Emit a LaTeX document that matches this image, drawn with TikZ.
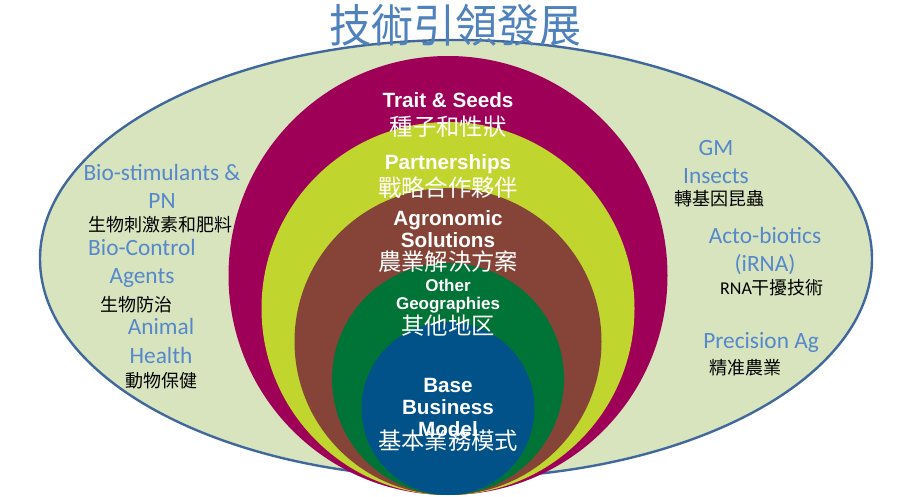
\documentclass[tikz,border=0pt]{standalone}
\usepackage{fontspec}
\setmainfont{Liberation Sans}
\newfontfamily\cjk{Noto Sans CJK TC}
\newfontfamily\cali{Carlito}

\definecolor{oval}{RGB}{215,228,189}
\definecolor{ovaledge}{RGB}{65,104,156}
\definecolor{seedred}{RGB}{158,0,88}
\definecolor{partlime}{RGB}{192,214,46}
\definecolor{agrobrown}{RGB}{134,68,56}
\definecolor{geogreen}{RGB}{0,116,54}
\definecolor{basenavy}{RGB}{0,82,136}
\definecolor{sideblue}{RGB}{85,136,204}
\definecolor{titleblue}{RGB}{79,129,189}

\tikzset{
  entag/.style={text=white, align=center, inner sep=0pt,
    font=\bfseries\fontsize{15.5}{16.5}\selectfont},
  zhtag/.style={text=white, inner sep=0pt,
    font=\cjk\fontsize{17.5}{18}\selectfont},
  sidetag/.style={text=sideblue, align=center, inner sep=0pt,
    font=\cali\fontsize{17.5}{21.5}\selectfont},
  sidezh/.style={text=black, inner sep=0pt,
    font=\cjk\fontsize{13.5}{14}\selectfont},
}

\newcommand{\rings}{
  \coordinate (eye) at (456,237);
  \draw [fill=oval, draw=ovaledge, line width=1.8pt] (eye)
    ellipse [x radius=416*0.75pt, y radius=219*0.75pt];

  % circles all touch at the bottom
  \foreach \r/\c in {219.5/seedred, 186.5/partlime, 153.5/agrobrown,
    116/geogreen, 86.5/basenavy}
    \fill [\c] (448,{1+\r}) circle [radius=\r*0.75pt];
}

\begin{document}
\begin{tikzpicture}[x=0.75pt, y=0.75pt]
    \useasboundingbox (0,0) rectangle (913,496);
    \rings

    \node [text=titleblue, inner sep=0pt, yscale=1.08,
    font=\cjk\fontsize{31.5}{33}\selectfont] (title) at (455,471) {技術引領發展};

    % rings
    \node [entag] (seeds) at (448,396) {Trait \& Seeds};
    \node [zhtag] (seedszh) at (448,369) {種子和性狀};

    \node [entag] (partner) at (448,332) {Partnerships};
    \node [zhtag] (partnerzh) at (448,308) {戰略合作夥伴};

    \node [entag] (agro) at (448,267) {Agronomic\\Solutions};
    \node [zhtag] (agrozh) at (448,234) {農業解決方案};

    \node [entag, font=\bfseries\fontsize{12.75}{13.5}\selectfont]
    (geo) at (448,200) {Other\\Geographies};
    \node [zhtag] (geozh) at (448,170) {其他地区};

    \node [entag] (base) at (448,89) {Base\\Business\\Model};
    \node [zhtag] (basezh) at (448,55) {基本業務模式};

    % left side
    \node [sidetag] (biostim) at (162,309.5) {Bio-stimulants \&\\PN};
    \node [sidezh] (biostimzh) at (160,271) {生物刺激素和肥料};

    \node [sidetag] (bioctl) at (142,232.5) {Bio-Control\\Agents};
    \node [sidezh] (bioctlzh) at (136,191) {生物防治};

    \node [sidetag] (animal) at (161,155) {Animal\\Health};
    \node [sidezh] (animalzh) at (161,115) {動物保健};

    % right side
    \node [sidetag] (gm) at (716,334) {GM\\Insects};
    \node [sidezh] (gmzh) at (719,297) {轉基因昆蟲};

    \node [sidetag] (acto) at (765,245) {Acto-biotics\\(iRNA)};
    \node [sidezh] (actozh) at (772,208) {{\cali RNA}干擾技術};

    \node [sidetag] (prec) at (761,154) {Precision Ag};
    \node [sidezh] (preczh) at (745,128) {精准農業};
\end{tikzpicture}
\end{document}
